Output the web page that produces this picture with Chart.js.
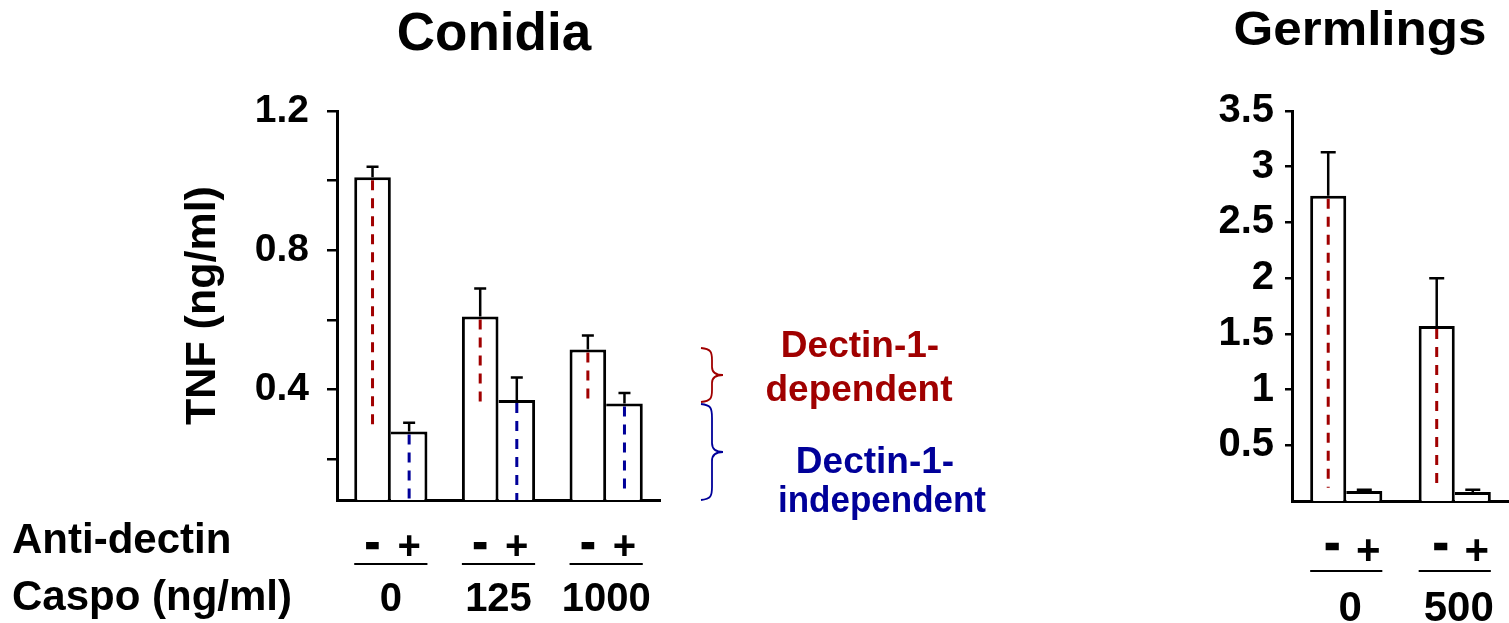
<!DOCTYPE html>
<html>
<head>
<meta charset="utf-8">
<script src="https://cdn.jsdelivr.net/npm/chart.js@4.4.1/dist/chart.umd.min.js"></script>
<style>
  html, body { margin: 0; padding: 0; background: #fff; }
  #page { position: relative; width: 1509px; height: 623px; overflow: hidden; }
  canvas { position: absolute; top: 0; }
  #conidiaChart { left: 160px; }
  #germChart { left: 1150px; }
  #notes { position: absolute; left: 0; top: 0; }
  #notes text { font-family: 'Liberation Sans', Arial, sans-serif; font-weight: bold; }
</style>
</head>
<body>
<div id="page">
  <canvas id="conidiaChart" width="510" height="550"></canvas>
  <canvas id="germChart" width="359" height="550"></canvas>
  <svg id="notes" width="1509" height="623" xmlns="http://www.w3.org/2000/svg">
    <text x="494" y="50" text-anchor="middle" font-size="53">Conidia</text>
    <text x="1360" y="45" text-anchor="middle" font-size="48" textLength="253" lengthAdjust="spacingAndGlyphs">Germlings</text>
    <text x="12" y="553" font-size="42">Anti-dectin</text>
    <text x="12" y="610" font-size="42">Caspo (ng/ml)</text>

    <path d="M701 348 C711 349,712 352,712 360 L712 367 C712 372,716 375,723 375 C716 375,712 378,712 383 L712 390 C712 398,711 401,701 402"
          fill="none" stroke="#a00000" stroke-width="1.8"/>
    <path d="M701 404 C711 405,712 408,712 418 L712 443 C712 449,716 452,723 452 C716 452,712 455,712 461 L712 487 C712 496,711 499,701 500"
          fill="none" stroke="#000099" stroke-width="1.8"/>
    <text x="860" y="357" text-anchor="middle" font-size="37" fill="#a00000">Dectin-1-</text>
    <text x="859" y="401" text-anchor="middle" font-size="37" fill="#a00000">dependent</text>
    <text x="875" y="473" text-anchor="middle" font-size="37" fill="#000099">Dectin-1-</text>
    <text x="882" y="512" text-anchor="middle" font-size="36" fill="#000099" textLength="208" lengthAdjust="spacingAndGlyphs">independent</text>
  </svg>
</div>
<script>
// Conidia: TNF (ng/ml) without (-) and with (+) anti-dectin, per caspofungin dose
const conidiaDoses = ['0', '125', '1000'];
const conidiaMinus = [1.01, 0.61, 0.515];
const conidiaPlus = [0.28, 0.37, 0.36];
const conidiaMinusErr = [1.04, 0.69, 0.555];
const conidiaPlusErr = [0.305, 0.435, 0.39];
const conidiaRedTo = [0.28, 0.365, 0.37];
const conidiaBlueTo = [0.083, 0.083, 0.105];
const conidiaTickValues = [0.2, 0.4, 0.6, 0.8, 1.0, 1.2];
const conidiaTickLabels = ['', '0.4', '', '0.8', '', '1.2'];

// Germlings
const germDoses = ['0', '500'];
const germMinus = [2.74, 1.57];
const germPlus = [0.09, 0.08];
const germMinusErr = [3.13, 2.0];
const germPlusErr = [0.1, 0.1];
const germRedTo = [0.12, 0.12];
const germTickValues = [0.5, 1, 1.5, 2, 2.5, 3, 3.5];
const germTickLabels = ['0.5', '1', '1.5', '2', '2.5', '3', '3.5'];

const antiSigns = ['-', '+'];

const RED = '#a00000';
const BLUE = '#000099';

Chart.defaults.font.family = "'Liberation Sans', Arial, sans-serif";
Chart.defaults.font.weight = 'bold';
Chart.defaults.color = '#000';

// dashed guides inside bars + upper error whiskers
const whiskers = {
    id: 'whiskers',
    afterDatasetsDraw(chart, args, opts) {
        const ctx = chart.ctx;
        const y = chart.scales.y;
        chart.data.datasets.forEach((ds, di) => {
            chart.getDatasetMeta(di).data.forEach((bar, i) => {
                if (ds.guideTo) {
                    ctx.save();
                    ctx.strokeStyle = ds.guideColor;
                    ctx.lineWidth = 3;
                    ctx.setLineDash([10, 8]);
                    ctx.beginPath();
                    ctx.moveTo(bar.x, y.getPixelForValue(ds.data[i]) + 3);
                    ctx.lineTo(bar.x, y.getPixelForValue(ds.guideTo[i]));
                    ctx.stroke();
                    ctx.restore();
                }
                const top = y.getPixelForValue(ds.errTop[i]);
                const base = y.getPixelForValue(ds.data[i]);
                ctx.save();
                ctx.strokeStyle = '#000';
                ctx.lineWidth = 2.5;
                ctx.beginPath();
                ctx.moveTo(bar.x, base);
                ctx.lineTo(bar.x, top);
                ctx.moveTo(bar.x - opts.cap / 2, top);
                ctx.lineTo(bar.x + opts.cap / 2, top);
                ctx.stroke();
                ctx.restore();
            });
        });
    },
};

function makeChart(id, setup) {
    return new Chart(document.getElementById(id), {
        type: 'bar',
        data: {
            labels: setup.labels,
            datasets: [
                {
                    data: setup.minus,
                    errTop: setup.minusErr,
                    guideTo: setup.redTo,
                    guideColor: RED,
                    backgroundColor: '#fff',
                    borderColor: '#000',
                    borderWidth: { top: 3, left: 3, right: 3, bottom: 0 },
                    borderSkipped: 'start',
                    barPercentage: 1,
                    categoryPercentage: setup.catPct,
                },
                {
                    data: setup.plus,
                    errTop: setup.plusErr,
                    guideTo: setup.blueTo,
                    guideColor: BLUE,
                    backgroundColor: '#fff',
                    borderColor: '#000',
                    borderWidth: { top: 3, left: 0, right: 3, bottom: 0 },
                    borderSkipped: 'start',
                    barPercentage: 1,
                    categoryPercentage: setup.catPct,
                },
            ],
        },
        options: {
            responsive: false,
            animation: false,
            events: [],
            layout: { padding: setup.padding },
            plugins: {
                legend: { display: false },
                tooltip: { enabled: false },
                whiskers: { cap: setup.cap },
            },
            scales: {
                x: {
                    grid: { display: false },
                    ticks: { display: false },
                    border: { display: true, color: '#000', width: 3 },
                    afterFit: (scale) => { scale.height = 0; },
                },
                y: {
                    min: setup.min,
                    max: setup.max,
                    afterBuildTicks: (scale) => {
                        scale.ticks = setup.tickValues.map((value) => ({ value }));
                    },
                    afterFit: (scale) => { scale.width = setup.axisWidth; },
                    ticks: {
                        padding: setup.tickPad,
                        font: { size: setup.tickSize, weight: 'bold' },
                        callback: (value, index) => setup.tickLabels[index],
                    },
                    grid: {
                        drawOnChartArea: false,
                        drawTicks: true,
                        tickLength: setup.tickLen,
                        color: '#000',
                        lineWidth: 2.5,
                    },
                    border: { display: true, color: '#000', width: 3 },
                    title: setup.title
                        ? {
                            display: true,
                            text: setup.title,
                            font: { size: 43, weight: 'bold' },
                            padding: { top: 17, bottom: 0 },
                        }
                        : { display: false },
                },
            },
        },
        plugins: [whiskers],
    });
}

const conidiaChart = makeChart('conidiaChart', {
    labels: conidiaDoses,
    minus: conidiaMinus,
    plus: conidiaPlus,
    minusErr: conidiaMinusErr,
    plusErr: conidiaPlusErr,
    redTo: conidiaRedTo,
    blueTo: conidiaBlueTo,
    tickValues: conidiaTickValues,
    tickLabels: conidiaTickLabels,
    min: 0.083,
    max: 1.2,
    catPct: 0.68,
    cap: 12,
    axisWidth: 177,
    tickLen: 10,
    tickPad: 18,
    tickSize: 39,
    title: 'TNF (ng/ml)',
    padding: { top: 111, right: 10, bottom: 50, left: 0 },
});

const germChart = makeChart('germChart', {
    labels: germDoses,
    minus: germMinus,
    plus: germPlus,
    minusErr: germMinusErr,
    plusErr: germPlusErr,
    redTo: germRedTo,
    blueTo: null,
    tickValues: germTickValues,
    tickLabels: germTickLabels,
    min: 0,
    max: 3.5,
    catPct: 0.665,
    cap: 15,
    axisWidth: 142,
    tickLen: 7,
    tickPad: 11,
    tickSize: 40,
    title: null,
    padding: { top: 111, right: 0, bottom: 49, left: 0 },
});

// "- +" rows, rules and dose names under each pair of bars
const svg = document.getElementById('notes');
const NS = 'http://www.w3.org/2000/svg';

function addText(str, x, y, size, thick) {
    const t = document.createElementNS(NS, 'text');
    t.setAttribute('x', x);
    t.setAttribute('y', y);
    t.setAttribute('text-anchor', 'middle');
    t.setAttribute('font-size', size);
    if (thick) {
        t.setAttribute('stroke', '#000');
        t.setAttribute('stroke-width', thick);
    }
    t.textContent = str;
    svg.appendChild(t);
}

function addRule(x1, x2, y) {
    const l = document.createElementNS(NS, 'line');
    l.setAttribute('x1', x1);
    l.setAttribute('x2', x2);
    l.setAttribute('y1', y);
    l.setAttribute('y2', y);
    l.setAttribute('stroke', '#000');
    l.setAttribute('stroke-width', 2.2);
    svg.appendChild(l);
}

function labelPairs(chart, left, names, row) {
    const minusBars = chart.getDatasetMeta(0).data;
    const plusBars = chart.getDatasetMeta(1).data;
    names.forEach((name, i) => {
        const m = minusBars[i];
        const p = plusBars[i];
        addText(antiSigns[0], left + m.x + row.dx, row.minusY, row.size, 2.5);
        addText(antiSigns[1], left + p.x + row.dx, row.plusY, row.size);
        addRule(left + m.x - m.width / 2, left + p.x + p.width / 2, row.ruleY);
        addText(name, left + (m.x + p.x) / 2 + row.dx, row.nameY, row.size);
    });
}

labelPairs(conidiaChart, 160, conidiaDoses, { dx: 0, minusY: 556, plusY: 559, ruleY: 564, nameY: 611, size: 40 });
labelPairs(germChart, 1150, germDoses, { dx: 4, minusY: 558, plusY: 564, ruleY: 571, nameY: 621, size: 42 });
</script>
</body>
</html>
